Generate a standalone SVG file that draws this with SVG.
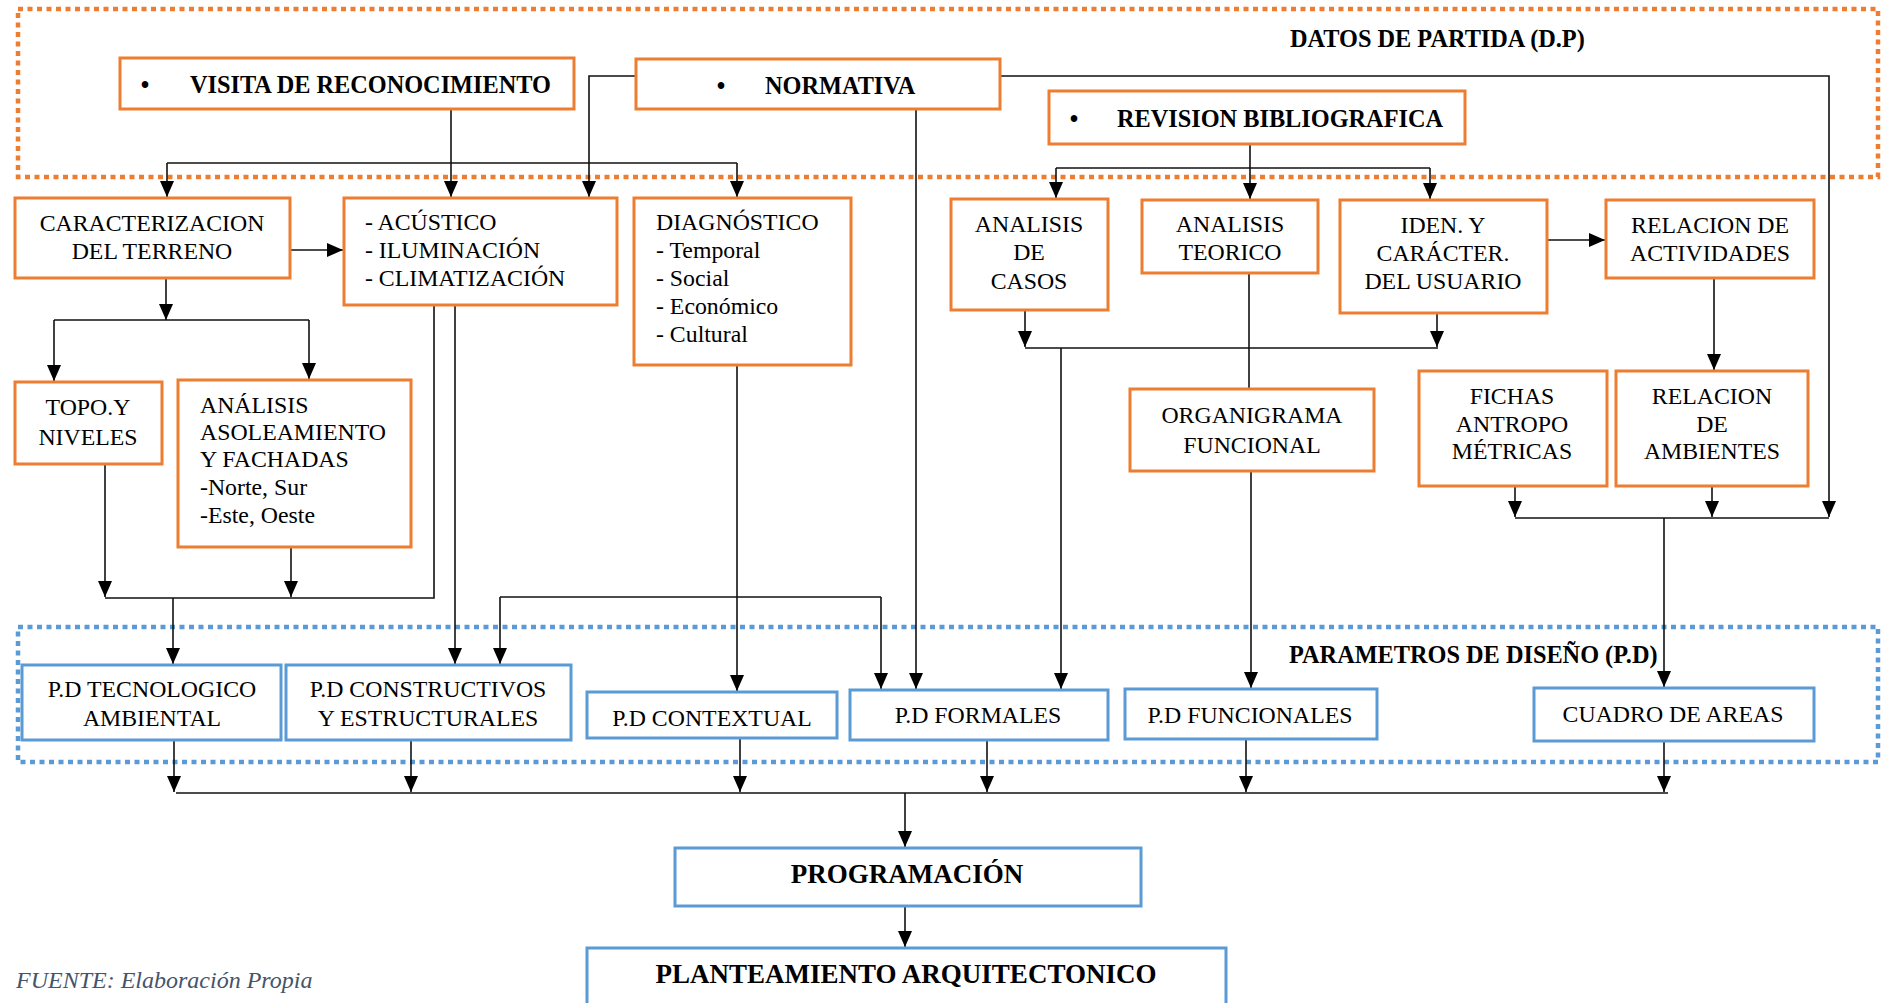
<svg xmlns="http://www.w3.org/2000/svg" width="1881" height="1003" viewBox="0 0 1881 1003">
<style>
.bg{fill:#ffffff}
.ob{fill:#ffffff;stroke:#ED7D31;stroke-width:3}
.bb{fill:#ffffff;stroke:#5B9BD5;stroke-width:3}
.od{fill:none;stroke:#ED7D31;stroke-width:4.5;stroke-dasharray:5 4.5}
.bd{fill:none;stroke:#5B9BD5;stroke-width:4.5;stroke-dasharray:5 4.5}
.t{font-family:"Liberation Serif","Times New Roman",serif;font-size:23.8px;fill:#000}
.c{text-anchor:middle}
.h{font-family:"Liberation Serif","Times New Roman",serif;font-size:24.3px;font-weight:bold;fill:#000}
.h2{font-family:"Liberation Serif","Times New Roman",serif;font-size:27px;font-weight:bold;fill:#000}
.f{font-family:"Liberation Serif","Times New Roman",serif;font-size:24px;font-style:italic;fill:#44546A}
.ln{fill:none;stroke:#111;stroke-width:1.6}
.ar{fill:none;stroke:#111;stroke-width:1.6;marker-end:url(#ah)}
</style>
<defs>
<marker id="ah" markerUnits="userSpaceOnUse" markerWidth="16" markerHeight="14" viewBox="0 0 16 14" refX="16" refY="7" orient="auto">
<path d="M0,0 L16,7 L0,14 z" fill="#000"/>
</marker>
</defs>
<rect class="bg" x="0" y="0" width="1881" height="1003"/>

<g id="group-datos-de-partida">
<rect class="od" x="18" y="9" width="1860" height="168"/>
<text class="h" x="1290" y="47">DATOS DE PARTIDA (D.P)</text>
</g>
<g id="group-parametros">
<rect class="bd" x="18" y="627" width="1860" height="135"/>
<text class="h" x="1289" y="663">PARAMETROS DE DISEÑO (P.D)</text>
</g>

<g id="connectors">
<path class="ar" d="M451,109 V197"/>
<path class="ln" d="M167,163 H737"/>
<path class="ar" d="M167,163 V197"/>
<path class="ar" d="M737,163 V197"/>
<path class="ar" d="M636,76 H589 V197"/>
<path class="ar" d="M1000,76 H1829 V517"/>
<path class="ar" d="M916,109 V689"/>
<path class="ar" d="M290,250 H343"/>
<path class="ar" d="M166,278 V320"/>
<path class="ln" d="M54,320 H309"/>
<path class="ar" d="M54,320 V381"/>
<path class="ar" d="M309,320 V379"/>
<path class="ar" d="M105,464 V597"/>
<path class="ar" d="M291,547 V597"/>
<path class="ln" d="M105,598 H434 V305"/>
<path class="ar" d="M173,598 V664"/>
<path class="ar" d="M455,305 V664"/>
<path class="ar" d="M737,365 V691"/>
<path class="ln" d="M500,597 H881"/>
<path class="ar" d="M500,597 V664"/>
<path class="ar" d="M881,597 V689"/>
<path class="ar" d="M1250,144 V199"/>
<path class="ln" d="M1056,168 H1430"/>
<path class="ar" d="M1056,168 V198"/>
<path class="ar" d="M1430,168 V199"/>
<path class="ar" d="M1025,310 V347"/>
<path class="ar" d="M1437,313 V347"/>
<path class="ln" d="M1025,348 H1438"/>
<path class="ar" d="M1061,348 V689"/>
<path class="ln" d="M1249,273 V389"/>
<path class="ar" d="M1251,471 V688"/>
<path class="ar" d="M1547,240 H1605"/>
<path class="ar" d="M1714,278 V370"/>
<path class="ar" d="M1515,486 V517"/>
<path class="ar" d="M1712,486 V517"/>
<path class="ln" d="M1515,518 H1829"/>
<path class="ar" d="M1664,518 V687"/>
<path class="ar" d="M174,740 V792"/>
<path class="ar" d="M411,740 V792"/>
<path class="ar" d="M740,738 V792"/>
<path class="ar" d="M987,740 V792"/>
<path class="ar" d="M1246,739 V792"/>
<path class="ar" d="M1664,741 V792"/>
<path class="ln" d="M176,793 H1668"/>
<path class="ar" d="M905,793 V847"/>
<path class="ar" d="M905,906 V947"/>
</g>

<g id="node-visita">
<rect class="ob" x="120" y="58" width="454" height="51"/>
<text class="h c" x="145" y="93">•</text>
<text class="h" x="190" y="93">VISITA DE RECONOCIMIENTO</text>
</g>
<g id="node-normativa">
<rect class="ob" x="636" y="59" width="364" height="50"/>
<text class="h c" x="721" y="94">•</text>
<text class="h" x="765" y="94">NORMATIVA</text>
</g>
<g id="node-revision">
<rect class="ob" x="1049" y="91" width="416" height="53"/>
<text class="h c" x="1074" y="127">•</text>
<text class="h" x="1117" y="127">REVISION BIBLIOGRAFICA</text>
</g>
<g id="node-caracterizacion">
<rect class="ob" x="15" y="198" width="275" height="80"/>
<text class="t c" x="152" y="231">CARACTERIZACION</text>
<text class="t c" x="152" y="259">DEL TERRENO</text>
</g>
<g id="node-acustico">
<rect class="ob" x="344" y="198" width="273" height="107"/>
<text class="t" x="365" y="230">- ACÚSTICO</text>
<text class="t" x="365" y="258">- ILUMINACIÓN</text>
<text class="t" x="365" y="286">- CLIMATIZACIÓN</text>
</g>
<g id="node-diagnostico">
<rect class="ob" x="634" y="198" width="217" height="167"/>
<text class="t" x="656" y="230">DIAGNÓSTICO</text>
<text class="t" x="656" y="258">- Temporal</text>
<text class="t" x="656" y="286">- Social</text>
<text class="t" x="656" y="314">- Económico</text>
<text class="t" x="656" y="342">- Cultural</text>
</g>
<g id="node-topo">
<rect class="ob" x="15" y="382" width="147" height="82"/>
<text class="t c" x="88" y="415">TOPO.Y</text>
<text class="t c" x="88" y="445">NIVELES</text>
</g>
<g id="node-asoleamiento">
<rect class="ob" x="178" y="380" width="233" height="167"/>
<text class="t" x="200" y="413">ANÁLISIS</text>
<text class="t" x="200" y="440">ASOLEAMIENTO</text>
<text class="t" x="200" y="467">Y FACHADAS</text>
<text class="t" x="200" y="495">-Norte, Sur</text>
<text class="t" x="200" y="523">-Este, Oeste</text>
</g>
<g id="node-casos">
<rect class="ob" x="951" y="199" width="157" height="111"/>
<text class="t c" x="1029" y="232">ANALISIS</text>
<text class="t c" x="1029" y="260">DE</text>
<text class="t c" x="1029" y="289">CASOS</text>
</g>
<g id="node-teorico">
<rect class="ob" x="1142" y="200" width="176" height="73"/>
<text class="t c" x="1230" y="232">ANALISIS</text>
<text class="t c" x="1230" y="260">TEORICO</text>
</g>
<g id="node-usuario">
<rect class="ob" x="1340" y="200" width="207" height="113"/>
<text class="t c" x="1443" y="233">IDEN. Y</text>
<text class="t c" x="1443" y="261">CARÁCTER.</text>
<text class="t c" x="1443" y="289">DEL USUARIO</text>
</g>
<g id="node-actividades">
<rect class="ob" x="1606" y="200" width="208" height="78"/>
<text class="t c" x="1710" y="233">RELACION DE</text>
<text class="t c" x="1710" y="261">ACTIVIDADES</text>
</g>
<g id="node-organigrama">
<rect class="ob" x="1130" y="389" width="244" height="82"/>
<text class="t c" x="1252" y="423">ORGANIGRAMA</text>
<text class="t c" x="1252" y="453">FUNCIONAL</text>
</g>
<g id="node-fichas">
<rect class="ob" x="1419" y="371" width="188" height="115"/>
<text class="t c" x="1512" y="404">FICHAS</text>
<text class="t c" x="1512" y="432">ANTROPO</text>
<text class="t c" x="1512" y="459">MÉTRICAS</text>
</g>
<g id="node-ambientes">
<rect class="ob" x="1616" y="371" width="192" height="115"/>
<text class="t c" x="1712" y="404">RELACION</text>
<text class="t c" x="1712" y="432">DE</text>
<text class="t c" x="1712" y="459">AMBIENTES</text>
</g>

<g id="node-pd-tecnologico">
<rect class="bb" x="22" y="665" width="259" height="75"/>
<text class="t c" x="152" y="697">P.D TECNOLOGICO</text>
<text class="t c" x="152" y="726">AMBIENTAL</text>
</g>
<g id="node-pd-constructivos">
<rect class="bb" x="286" y="665" width="285" height="75"/>
<text class="t c" x="428" y="697">P.D CONSTRUCTIVOS</text>
<text class="t c" x="428" y="726">Y ESTRUCTURALES</text>
</g>
<g id="node-pd-contextual">
<rect class="bb" x="587" y="692" width="250" height="46"/>
<text class="t c" x="712" y="726">P.D CONTEXTUAL</text>
</g>
<g id="node-pd-formales">
<rect class="bb" x="850" y="690" width="258" height="50"/>
<text class="t c" x="978" y="723">P.D FORMALES</text>
</g>
<g id="node-pd-funcionales">
<rect class="bb" x="1125" y="689" width="252" height="50"/>
<text class="t c" x="1250" y="723">P.D FUNCIONALES</text>
</g>
<g id="node-cuadro">
<rect class="bb" x="1534" y="688" width="280" height="53"/>
<text class="t c" x="1673" y="722">CUADRO DE AREAS</text>
</g>
<g id="node-programacion">
<rect class="bb" x="675" y="848" width="466" height="58"/>
<text class="h2 c" x="907" y="883">PROGRAMACIÓN</text>
</g>
<g id="node-planteamiento">
<rect class="bb" x="587" y="948" width="639" height="70"/>
<text class="h2 c" x="906" y="983">PLANTEAMIENTO ARQUITECTONICO</text>
</g>

<text class="f" x="16" y="988">FUENTE: Elaboración Propia</text>
</svg>
